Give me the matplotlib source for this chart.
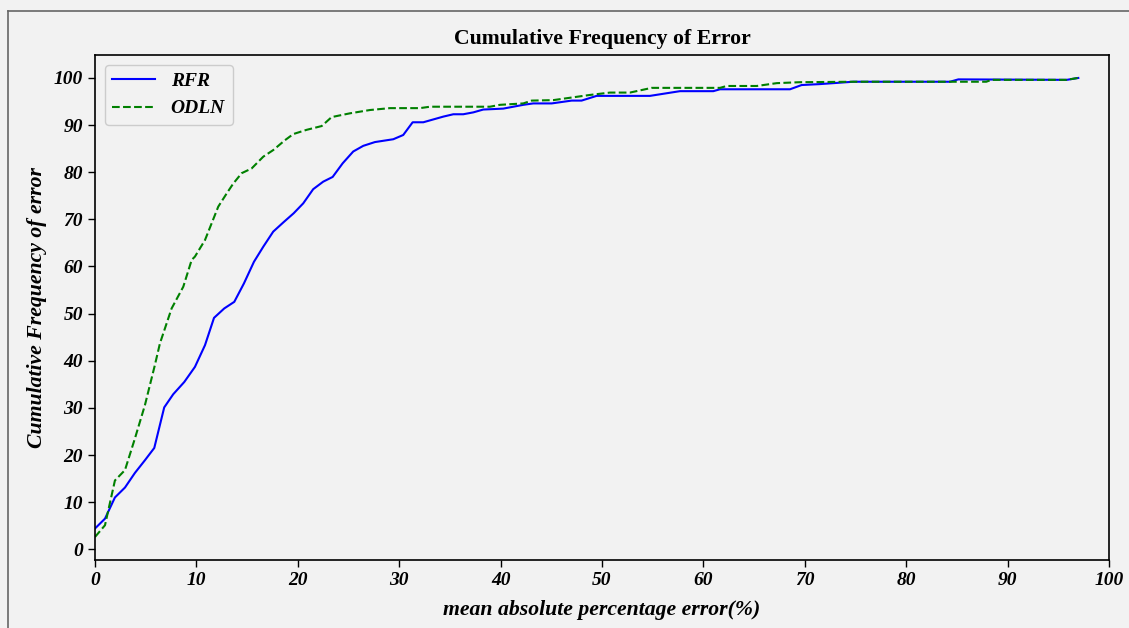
import numpy as np
import matplotlib
matplotlib.use("Agg")
import matplotlib.pyplot as plt
from matplotlib.lines import Line2D

# vertices (x = MAPE %, y = cumulative %)
rfr_x = [0.0, 0.99, 1.97, 2.96, 3.94, 4.93, 5.85, 6.83, 7.72, 8.81, 9.86,
         10.85, 11.74, 12.75, 13.74, 14.69, 15.68, 16.6, 17.58, 18.6, 19.6,
         20.54, 21.52, 22.51, 23.44, 24.43, 25.47, 26.46, 27.61, 29.42, 30.4,
         31.33, 32.38, 34.35, 35.34, 36.32, 37.31, 38.29, 40.27, 42.24, 43.22,
         45.04, 47.01, 47.99, 49.47, 54.73, 57.69, 60.98, 61.64, 68.54, 69.69,
         71.5, 74.78, 84.32, 85.14, 95.83, 96.97]
rfr_y = [4.4, 6.5, 11.0, 13.1, 16.2, 18.9, 21.5, 30.1, 32.9, 35.5, 38.7,
         43.3, 49.1, 51.1, 52.5, 56.4, 61.0, 64.2, 67.4, 69.4, 71.3,
         73.4, 76.4, 78.0, 79.0, 81.9, 84.4, 85.6, 86.4, 87.0, 87.9,
         90.6, 90.6, 91.8, 92.3, 92.3, 92.7, 93.3, 93.5, 94.3, 94.6,
         94.6, 95.2, 95.2, 96.2, 96.2, 97.2, 97.2, 97.6, 97.6, 98.5,
         98.7, 99.2, 99.2, 99.7, 99.6, 100.0]

odln_x = [0.0, 0.99, 1.97, 2.96, 3.94, 4.93, 5.9, 6.41, 7.56, 8.71, 9.54,
          9.86, 10.85, 12.16, 12.99, 13.64, 14.47, 15.45, 16.6, 17.58, 18.74,
          19.56, 20.88, 22.36, 23.34, 25.15, 27.12, 29.09, 32.05, 33.04, 38.95,
          39.94, 42.24, 43.07, 45.2, 48.82, 50.79, 52.76, 54.9, 61.64, 62.3,
          65.26, 67.23, 69.5, 74.78, 87.9, 88.4, 95.83, 96.9]
odln_y = [2.6, 5.1, 14.6, 16.8, 23.5, 30.6, 39.0, 43.7, 51.1, 55.7, 61.4,
          62.1, 65.6, 72.7, 75.5, 77.6, 79.8, 80.8, 83.3, 84.7, 86.8,
          88.1, 89.0, 89.8, 91.7, 92.5, 93.2, 93.6, 93.6, 93.9, 93.9,
          94.3, 94.6, 95.2, 95.3, 96.4, 96.9, 96.9, 97.9, 97.9, 98.3,
          98.3, 98.9, 99.1, 99.2, 99.2, 99.6, 99.6, 100.0]

x_ticks = list(range(0, 101, 10))
y_ticks = list(range(0, 101, 10))

plt.rcParams['font.family'] = ['Liberation Serif', 'DejaVu Serif']
bg = '#f2f2f2'

fig = plt.figure(figsize=(11.29, 6.28), dpi=100, facecolor=bg)
ax = fig.add_axes([0.0841, 0.1083, 0.8982, 0.8041], facecolor=bg)

# frame lines (top and left) around the figure, cropped in the reference
fx = 8 / 1129
fy = 1 - 10.5 / 628
fig.add_artist(Line2D([fx, 1.0], [fy, fy], transform=fig.transFigure,
                      color='#666666', linewidth=1.2))
fig.add_artist(Line2D([fx, fx], [0.0, fy], transform=fig.transFigure,
                      color='#666666', linewidth=1.2))

ax.plot(rfr_x, rfr_y, color='blue', linestyle='-', linewidth=1.5, label='RFR')
ax.plot(odln_x, odln_y, color='green', linestyle='--', linewidth=1.5, label='ODLN')

ax.set_xlim(0, 100)
ax.set_xticks(x_ticks)
ax.set_yticks(y_ticks)
for lab in ax.get_xticklabels() + ax.get_yticklabels():
    lab.set_fontsize(14)
    lab.set_fontweight('bold')
    lab.set_fontstyle('italic')
ax.tick_params(direction='out', length=5, width=1, colors='black')
for sp in ax.spines.values():
    sp.set_color('black')
    sp.set_linewidth(1.2)

ax.set_title('Cumulative Frequency of Error', fontsize=15.7, fontweight='bold', pad=8)
ax.set_xlabel('mean absolute percentage error(%)', fontsize=15.7,
              fontweight='bold', fontstyle='italic', labelpad=8)
ax.set_ylabel('Cumulative Frequency of error', fontsize=15.7,
              fontweight='bold', fontstyle='italic', labelpad=5)

leg = ax.legend(loc='upper left', prop={'size': 14, 'weight': 'bold', 'style': 'italic'},
                facecolor=bg, edgecolor='#cccccc', framealpha=1, handlelength=2.2)

fig.savefig('out.png', dpi=100, facecolor=bg)
